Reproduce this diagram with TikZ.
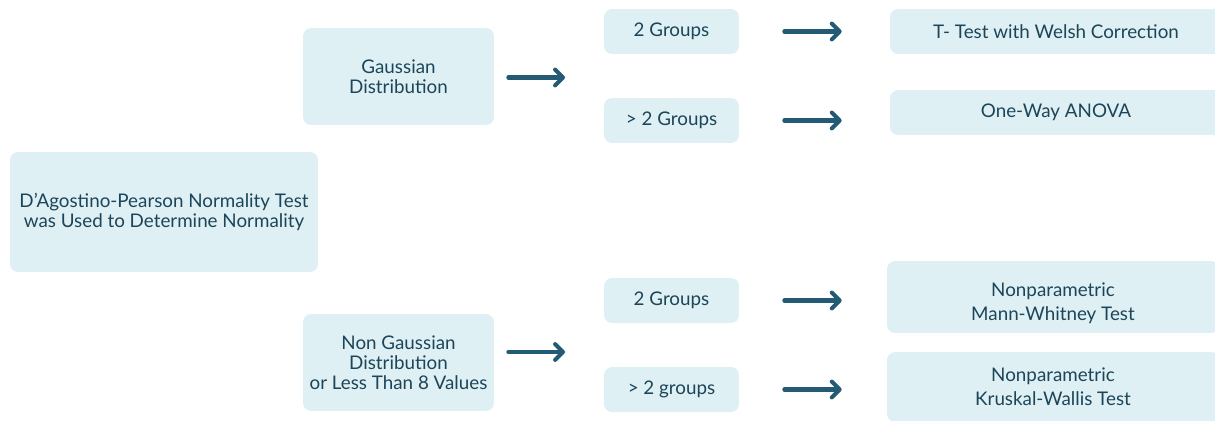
\documentclass[tikz,border=0pt]{standalone}
\usepackage{fontspec}
\setmainfont{Lato}
\usetikzlibrary{arrows.meta}

\definecolor{boxfill}{HTML}{DFF0F5}
\definecolor{boxtext}{HTML}{1C4558}
\definecolor{arrowcol}{HTML}{245B74}

\tikzset{
	box/.style={fill=boxfill,rounded corners=0.16cm,align=center,text=boxtext,inner sep=0pt,
		font=\fontsize{10.7}{11.3}\selectfont},
	widebox/.style={box,font=\fontsize{10.7}{13.6}\selectfont},
	arr/.style={draw=arrowcol,line width=2.3pt,line cap=round,
		-{Straight Barb[length=4.5pt,width=9pt,line cap=round,line join=round]}}
}
\newcommand{\dropline}{\rule{0pt}{15pt}}

\begin{document}
\begin{tikzpicture}[x=0.02cm,y=-0.02cm]
	\useasboundingbox (0,0) rectangle (1215,420);
	\clip (0,0) rectangle (1215,420);
	\node[box,minimum width=6.16cm,minimum height=2.4cm] (dagostino) at (164,212)
		{D'Agostino-Pearson Normality Test\\was Used to Determine Normality};
	\node[box,minimum width=3.82cm,minimum height=1.94cm] (gauss) at (398.5,76.5)
		{Gaussian\\Distribution};
	\node[box,minimum width=3.82cm,minimum height=1.94cm] (nongauss) at (398.5,362.5)
		{Non Gaussian\\Distribution\\or Less Than 8 Values};
	\node[box,minimum width=2.7cm,minimum height=0.9cm] (gtwo) at (671.5,31.5) {2 Groups};
	\node[box,minimum width=2.7cm,minimum height=0.9cm] (gmore) at (671.5,120.5) {> 2 Groups};
	\node[box,minimum width=2.7cm,minimum height=0.9cm] (ntwo) at (671.5,300.5) {2 Groups};
	\node[box,minimum width=2.7cm,minimum height=0.9cm] (nmore) at (671.5,389.5) {> 2 groups};
	\node[box,minimum width=6.64cm,minimum height=0.9cm] (ttest) at (1056,31.5)
		{T- Test with Welsh Correction};
	\node[box,minimum width=6.64cm,minimum height=0.9cm] (anova) at (1056,112.5)
		{One-Way ANOVA};
	\node[widebox,minimum width=6.64cm,minimum height=1.44cm] (mannwhitney) at (1053,297)
		{\dropline Nonparametric\\Mann-Whitney Test};
	\node[widebox,minimum width=6.64cm,minimum height=1.4cm] (kruskal) at (1053,387)
		{Nonparametric\\Kruskal-Wallis Test};
	\coordinate (gsplit) at (565,77.5);
	\coordinate (nsplit) at (565,352);
	\draw[arr,shorten <=0.28cm] (gauss.east |- gsplit) -- (gsplit);
	\draw[arr,shorten <=0.28cm] (nongauss.east |- nsplit) -- (nsplit);
	\draw[arr,shorten <=0.9cm,shorten >=0.96cm] (gtwo.east) -- (gtwo.east -| ttest.west);
	\draw[arr,shorten <=0.9cm,shorten >=0.96cm] (gmore.east) -- (gmore.east -| anova.west);
	\draw[arr,shorten <=0.9cm,shorten >=0.9cm] (ntwo.east) -- (ntwo.east -| mannwhitney.west);
	\draw[arr,shorten <=0.9cm,shorten >=0.9cm] (nmore.east) -- (nmore.east -| kruskal.west);
\end{tikzpicture}
\end{document}
